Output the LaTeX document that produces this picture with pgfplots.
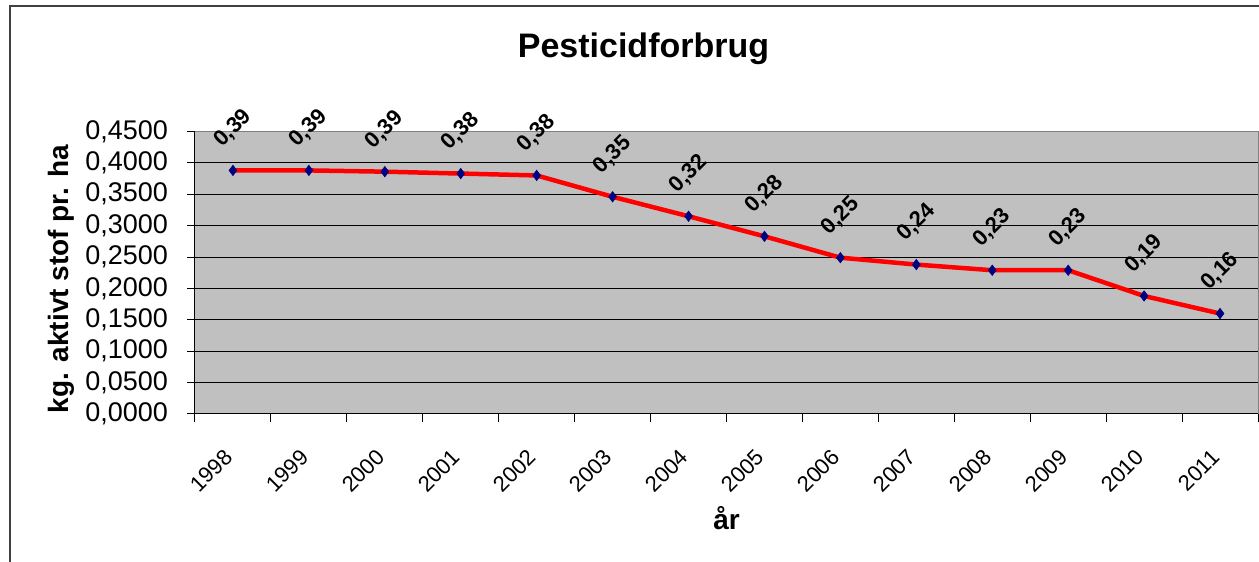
\documentclass[border=0pt]{standalone}
\usepackage{pgfplots}
\pgfplotsset{compat=1.18}
\usepackage{pgfplotstable}
\usepackage{fontspec}
\setmainfont{Liberation Sans}
\definecolor{plotgray}{HTML}{C0C0C0}
\definecolor{navymark}{HTML}{000080}
\definecolor{framegray}{HTML}{808080}
\pgfplotstableread{
x y label
0.5 0.388 0,39
1.5 0.388 0,39
2.5 0.386 0,39
3.5 0.383 0,38
4.5 0.380 0,38
5.5 0.346 0,35
6.5 0.315 0,32
7.5 0.283 0,28
8.5 0.249 0,25
9.5 0.238 0,24
10.5 0.229 0,23
11.5 0.229 0,23
12.5 0.188 0,19
13.5 0.160 0,16
}\datatable
\begin{document}
\begin{tikzpicture}
\useasboundingbox (0,0) rectangle (629.5pt,281pt);
\draw[line width=1pt, color=black!75] (5pt,-2pt) -- (5pt,277.75pt) -- (632pt,277.75pt);
\node[anchor=base, font=\fontsize{17}{20}\selectfont\bfseries] at (321.75pt,252pt) {Pesticidforbrug};
\begin{axis}[
  at={(97.5pt,74pt)}, anchor=south west,
  scale only axis, width=531.5pt, height=141.25pt,
  xmin=0, xmax=14, ymin=0, ymax=0.45,
  clip=false,
  /pgf/number format/assume math mode=true,
  xtick={0,1,2,3,4,5,6,7,8,9,10,11,12,13,14},
  x tick label as interval,
  xticklabels={1998,1999,2000,2001,2002,2003,2004,2005,2006,2007,2008,2009,2010,2011},
  ytick={0,0.05,0.1,0.15,0.2,0.25,0.3,0.35,0.4,0.45},
  yticklabels={{0,0000},{0,0500},{0,1000},{0,1500},{0,2000},{0,2500},{0,3000},{0,3500},{0,4000},{0,4500}},
  tick align=outside, tick pos=left,
  major tick length=4pt,
  every tick/.style={black, line width=0.5pt},
  axis background/.style={fill=plotgray},
  axis line style={framegray, line width=0.5pt},
  ymajorgrids,
  grid style={black, line width=0.5pt},
  yticklabel style={font=\fontsize{13.5}{16}\selectfont, xshift=-6pt, anchor=east},
  xticklabel style={font=\fontsize{11}{13}\selectfont, xshift=-5pt, yshift=-8pt, anchor=north east, rotate=45},
  every axis y label/.style={at={(axis description cs:-0.1261,0.478)}, rotate=90, anchor=center, font=\fontsize{14}{16}\selectfont\bfseries},
  every axis x label/.style={at={(axis description cs:0.5,-0.4106)}, anchor=base, font=\fontsize{14}{16}\selectfont\bfseries},
  ylabel={kg. aktivt stof pr. ha},
  xlabel={år},
]
\addplot[red, line width=2.25pt, mark=diamond*, mark size=2.6pt,
  mark options={fill=navymark, draw=navymark, line width=0.3pt},
  nodes near coords, point meta=explicit symbolic,
  nodes near coords style={font=\fontsize{11}{13}\selectfont\bfseries, text=black, anchor=center, yshift=21pt, rotate=45}]
  table[x=x, y=y, meta=label] {\datatable};
\draw[black, line width=0.5pt] (rel axis cs:0,1) -- (rel axis cs:0,0) -- (rel axis cs:1,0);
\end{axis}
\end{tikzpicture}
\end{document}
